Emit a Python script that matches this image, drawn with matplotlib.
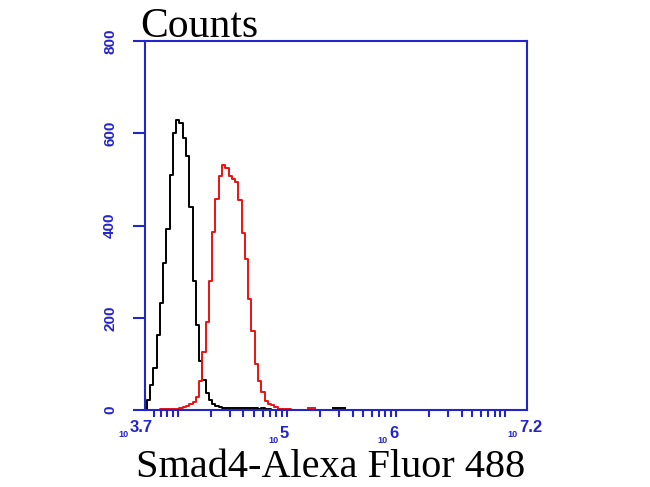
import matplotlib.pyplot as plt
from matplotlib.ticker import LogLocator, NullFormatter
import numpy as np

# log10 fluorescence bins and counts
black_log = [3.70, 3.73, 3.76, 3.79, 3.82, 3.85, 3.88, 3.91, 3.94, 3.97,
             4.00, 4.03, 4.06, 4.09, 4.12, 4.15, 4.18, 4.21, 4.24, 4.27,
             4.30, 4.33, 4.36, 4.39, 4.42, 4.45, 4.48, 4.51, 4.54, 4.57,
             4.60, 4.63, 4.66, 4.69, 4.72, 4.75, 4.78, 4.81, 4.84, 4.87]
black_counts = [0, 22, 55, 90, 162, 232, 318, 392, 510, 600,
                628, 622, 590, 550, 440, 280, 185, 107, 66, 36,
                22, 14, 9, 6, 5, 4, 5, 4, 4, 5,
                4, 4, 4, 5, 4, 3, 4, 3, 2, 0]

red_log = [3.70, 3.73, 3.76, 3.79, 3.82, 3.85, 3.88, 3.91, 3.94, 3.97,
           4.00, 4.03, 4.06, 4.09, 4.12, 4.15, 4.18, 4.21, 4.24, 4.27,
           4.30, 4.33, 4.36, 4.39, 4.42, 4.45, 4.48, 4.51, 4.54, 4.57,
           4.60, 4.63, 4.66, 4.69, 4.72, 4.75, 4.78, 4.81, 4.84, 4.87,
           4.90, 4.93, 4.96, 4.99, 5.02, 5.05]
red_counts = [0, 0, 0, 0, 0, 3, 3, 3, 3, 3,
              3, 4, 6, 8, 12, 18, 28, 62, 125, 190,
              280, 385, 458, 508, 531, 525, 508, 501, 495, 456,
              384, 328, 240, 172, 100, 62, 40, 20, 14, 10,
              7, 3, 3, 3, 2, 0]

# stray events near the baseline
red_blip_log = [5.19, 5.26]
red_blip_counts = [4, 4]
black_blip_log = [5.42, 5.53]
black_blip_counts = [5, 5]

x_label_exps = ['3.7', '5', '6', '7.2']
y_ticks = [0, 200, 400, 600, 800]

blue = '#2424cc'

fig = plt.figure(figsize=(6.5, 4.87), dpi=100)
ax = fig.add_axes([0.2231, 0.1581, 0.5877, 0.7577])

ax.plot(10 ** np.array(black_log), black_counts, color='black', lw=1.4, drawstyle='steps-mid')
ax.plot(10 ** np.array(red_log), red_counts, color='#ee1111', lw=1.4, drawstyle='steps-mid')
ax.plot(10 ** np.array(red_blip_log), red_blip_counts, color='#ee1111', lw=1.4)
ax.plot(10 ** np.array(black_blip_log), black_blip_counts, color='black', lw=1.4)

ax.set_xscale('log')
ax.set_xlim(10 ** 3.7, 10 ** 7.2)
ax.set_ylim(0, 800)

for s in ax.spines.values():
    s.set_color(blue)
    s.set_linewidth(1.5)

ax.xaxis.set_major_locator(LogLocator(base=10, numticks=10))
ax.xaxis.set_minor_locator(LogLocator(base=10, subs=np.arange(2, 10), numticks=20))
ax.xaxis.set_major_formatter(NullFormatter())
ax.xaxis.set_minor_formatter(NullFormatter())
ax.tick_params(axis='x', which='both', direction='out', length=5, width=1.5, color=blue)

ax.set_yticks(y_ticks)
ax.set_yticklabels([str(v) for v in y_ticks], rotation=90, va='center',
                   family='Liberation Sans', weight='bold', fontsize=11, color=blue)
ax.tick_params(axis='y', direction='out', length=9, width=1.5, color=blue, pad=11)

# x tick labels: small "10" followed by the exponent
# (horizontal shift of the joint, baseline drop of exponent) in pixels
label_offsets = {'3.7': (-15, 22), '5': (-7, 28), '6': (-7, 28), '7.2': (-8, 22)}
px = 72 / 100
trans = ax.get_xaxis_transform()
for txt in x_label_exps:
    dx, dy = label_offsets[txt]
    xv = 10 ** float(txt)
    ax.annotate(txt, (xv, 0), xycoords=trans, xytext=(dx * px, -dy * px),
                textcoords='offset points', ha='left', va='baseline',
                family='Liberation Sans', weight='bold', fontsize=12, color=blue,
                annotation_clip=False)
    ax.annotate('10', (xv, 0), xycoords=trans, xytext=((dx - 1) * px, -(dy + 5) * px),
                textcoords='offset points', ha='right', va='baseline',
                family='Liberation Sans', weight='bold', fontsize=6.5, color=blue,
                annotation_clip=False)

fig.text(0.215, 0.925, 'Counts', family='Liberation Serif', fontsize=30, ha='left', va='baseline')
fig.text(0.508, 10 / 487, 'Smad4-Alexa Fluor 488', family='Liberation Serif', fontsize=29,
         ha='center', va='baseline')

fig.savefig('out.png', dpi=100)
